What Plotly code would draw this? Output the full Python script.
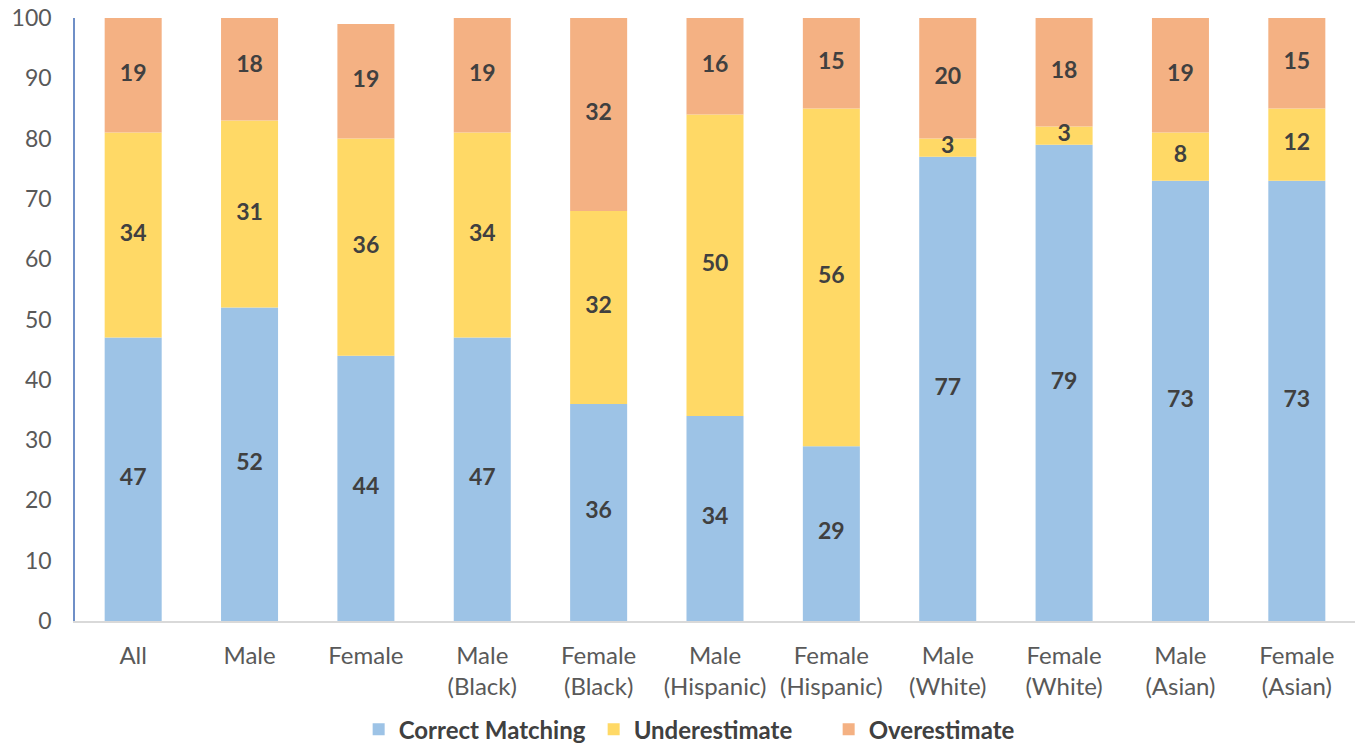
import plotly.graph_objects as go

categories = ["All", "Male", "Female", "Male<br>(Black)", "Female<br>(Black)",
              "Male<br>(Hispanic)", "Female<br>(Hispanic)", "Male<br>(White)",
              "Female<br>(White)", "Male<br>(Asian)", "Female<br>(Asian)"]
correct = [47, 52, 44, 47, 36, 34, 29, 77, 79, 73, 73]
under = [34, 31, 36, 34, 32, 50, 56, 3, 3, 8, 12]
over = [19, 18, 19, 19, 32, 16, 15, 20, 18, 19, 15]

series = [("Correct Matching", correct, "#9DC3E6"),
          ("Underestimate", under, "#FFD966"),
          ("Overestimate", over, "#F4B183")]

FONT = "Lato"
fig = go.Figure()

base = [0] * len(categories)
for name, vals, color in series:
    fig.add_trace(go.Bar(
        x=categories, y=vals, base=base, name=name,
        marker=dict(color=color, line=dict(width=0)),
        width=0.49, hoverinfo="skip",
    ))
    # value labels centred in each segment
    fig.add_trace(go.Scatter(
        x=categories, y=[b + v / 2 for b, v in zip(base, vals)],
        mode="text", text=[str(v) for v in vals],
        textfont=dict(family=FONT, size=23, color="#404040", weight="bold"),
        showlegend=False, hoverinfo="skip",
    ))
    base = [b + v for b, v in zip(base, vals)]

fig.update_layout(
    width=1357, height=744,
    margin=dict(l=75, r=2, t=18, b=123, autoexpand=False),
    plot_bgcolor="white", paper_bgcolor="white",
    barmode="overlay",
    font=dict(family=FONT, size=23, color="#595959"),
    legend=dict(orientation="h", x=0.497, xanchor="center", y=-0.143, yanchor="top",
                font=dict(family=FONT, size=24, color="#404040", weight="bold"),
                traceorder="normal", itemwidth=30, itemsizing="constant",
                entrywidth=190),
    xaxis=dict(range=[-0.5, len(categories) - 0.5], showline=True, linecolor="#D9D9D9",
               linewidth=1.5, automargin=False, showgrid=False, ticks="",
               tickfont=dict(size=24, color="#595959"), ticklabelstandoff=12,
               fixedrange=True),
    yaxis=dict(range=[0, 100], dtick=10, showline=True, linecolor="#6F8FC7",
               linewidth=1.5, showgrid=False, zeroline=False, ticks="", automargin=False,
               tickfont=dict(size=23, color="#595959"), ticklabelstandoff=17),
)

fig.write_html("out.html")
